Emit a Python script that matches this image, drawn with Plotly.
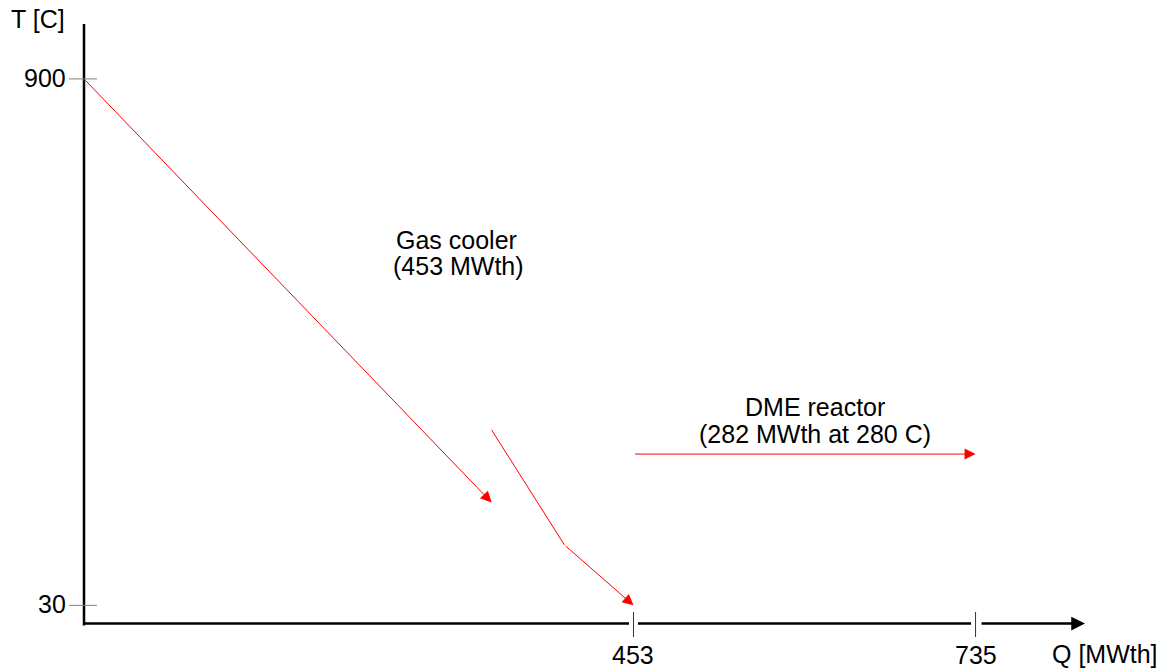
import plotly.graph_objects as go

# Heat released (Q, MWth) against temperature (T, C)
gas_cooler_hot_q = [0, 336]
gas_cooler_hot_t = [900, 200]
gas_cooler_cold_q = [336, 396, 453]
gas_cooler_cold_t = [320, 130, 30]
dme_q = [453, 735]
dme_t = [280, 280]

x_ticks = [453, 735]
y_ticks = [30, 900]

x_title = "Q [MWth]"
y_title = "T [C]"
gas_label = ["Gas cooler", "(453 MWth)"]
dme_label = ["DME reactor", "(282 MWth at 280 C)"]

W, H = 1164, 669
# pixel scale of the drawing area
PX_Q = 1.213      # pixels per MWth
PX_T = 0.6051     # pixels per degree C
X0_PX = 84        # pixel column of Q = 0
Y0_PX = 623.5     # pixel row of T = 0


def q_at(px):
    return (px - X0_PX) / PX_Q


def t_at(py):
    return (Y0_PX - py) / PX_T


FONT = dict(family="Liberation Sans, Arial, sans-serif", size=25, color="black")
RED = "#ff0000"

fig = go.Figure()
fig.add_trace(go.Scatter(x=[None], y=[None], showlegend=False))

shapes = []
annotations = []


def arrow(q_tail, t_tail, q_tip, t_tip, color, width, size, head=2):
    annotations.append(dict(
        x=q_tip, y=t_tip, ax=q_tail, ay=t_tail,
        xref="x", yref="y", axref="x", ayref="y",
        text="", showarrow=True, arrowhead=head, arrowsize=size,
        arrowwidth=width, arrowcolor=color, standoff=0, startstandoff=0,
    ))


def segment(q0, t0, q1, t1, color, width):
    shapes.append(dict(type="line", xref="x", yref="y", x0=q0, y0=t0,
                       x1=q1, y1=t1, line=dict(color=color, width=width)))


# --- axes -------------------------------------------------------------
y_top = t_at(24)
x_end = q_at(1085)
gap = 4.5 / PX_Q
segment(0, -2 / PX_T, 0, y_top, "black", 2.5)

# x axis broken around each tick, last piece carries the arrowhead
x_breaks = [-1 / PX_Q]
for v in x_ticks:
    x_breaks += [v - gap, v + gap]
x_breaks.append(x_end)
for i in range(0, len(x_breaks) - 2, 2):
    segment(x_breaks[i], 0, x_breaks[i + 1], 0, "black", 2.5)
arrow(x_breaks[-2], 0, x_breaks[-1], 0, "black", 2.5, 1.1)

for v in y_ticks:
    shapes.append(dict(type="line", xref="x", yref="y", xsizemode="pixel",
                       xanchor=0, x0=-15, x1=13, y0=v, y1=v,
                       line=dict(color="#808080", width=1)))
    annotations.append(dict(x=0, y=v, xref="x", yref="y", text=str(v),
                            showarrow=False, xanchor="right", yanchor="middle",
                            xshift=-16, yshift=1, font=FONT))

for v in x_ticks:
    shapes.append(dict(type="line", xref="x", yref="y", ysizemode="pixel",
                       yanchor=0, y0=-13.5, y1=11.5, x0=v, x1=v,
                       line=dict(color="#333333", width=1)))
    annotations.append(dict(x=v, y=0, xref="x", yref="y", text=str(v),
                            showarrow=False, xanchor="center", yanchor="middle",
                            yshift=-31, font=FONT))

annotations.append(dict(x=q_at(1104.5), y=t_at(654), xref="x", yref="y",
                        text=x_title, showarrow=False, xanchor="center",
                        yanchor="middle", font=FONT))
annotations.append(dict(x=q_at(37.5), y=t_at(19), xref="x", yref="y",
                        text=y_title, showarrow=False, xanchor="center",
                        yanchor="middle", font=FONT))

# --- heat curves ------------------------------------------------------
arrow(gas_cooler_hot_q[0], gas_cooler_hot_t[0],
      gas_cooler_hot_q[-1], gas_cooler_hot_t[-1], RED, 1, 2.2)
for i in range(len(gas_cooler_cold_q) - 2):
    segment(gas_cooler_cold_q[i], gas_cooler_cold_t[i],
            gas_cooler_cold_q[i + 1], gas_cooler_cold_t[i + 1], RED, 1)
arrow(gas_cooler_cold_q[-2], gas_cooler_cold_t[-2],
      gas_cooler_cold_q[-1], gas_cooler_cold_t[-1], RED, 1, 2.2)
arrow(dme_q[0], dme_t[0], dme_q[-1], dme_t[-1], RED, 1, 2.2)

# --- block labels -----------------------------------------------------
for text, px, py in [(gas_label[0], 456.7, 239.5), (gas_label[1], 458, 266),
                     (dme_label[0], 815, 406.7), (dme_label[1], 815, 434)]:
    annotations.append(dict(x=q_at(px), y=t_at(py), xref="x", yref="y",
                            text=text, showarrow=False, xanchor="center",
                            yanchor="middle", font=FONT))

fig.update_layout(
    width=W, height=H,
    margin=dict(l=0, r=0, t=0, b=0),
    paper_bgcolor="white", plot_bgcolor="white",
    xaxis=dict(range=[q_at(0), q_at(W)], visible=False, fixedrange=True),
    yaxis=dict(range=[t_at(H), t_at(0)], visible=False, fixedrange=True),
    shapes=shapes, annotations=annotations, showlegend=False,
)

fig.write_html("out.html", config={"displayModeBar": False})
